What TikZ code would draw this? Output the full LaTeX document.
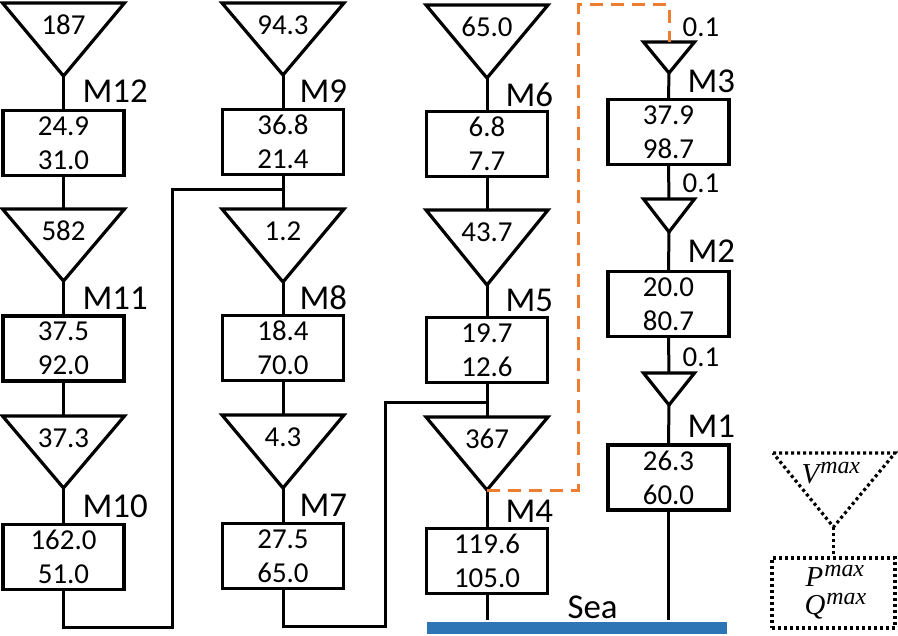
\documentclass[tikz,border=0pt]{standalone}
\usepackage{fontspec}
\setmainfont{Carlito}
\newfontfamily\legfont{Liberation Serif}
\definecolor{seablue}{HTML}{2E75B6}
\definecolor{tieorange}{HTML}{ED7D31}

% inverted triangle with a value inside: name, cx, top, tip, half width, value
\newcommand\gentri[6]{%
  \draw[tri] (#2-#5,#3) -- (#2+#5,#3) -- (#2,#4) -- cycle;
  \coordinate (#1top) at (#2,#3);
  \coordinate (#1tip) at (#2,#4);
  \node[num] (#1val) at (#2,#3+22) {#6};}
% small inverted triangle without value: name, cx, top, tip, half width
\newcommand\smalltri[5]{%
  \draw[tri] (#2-#5,#3) -- (#2+#5,#3) -- (#2,#4) -- cycle;
  \coordinate (#1top) at (#2,#3);
  \coordinate (#1tip) at (#2,#4);}
% italic symbol with raised "max"
\newcommand\maxsym[1]{{\itshape #1\kern1bp\raisebox{10bp}{\fontsize{24}{24}\selectfont max}}}

\begin{document}
\begin{tikzpicture}[x=1bp,y=-1bp,line width=3.2bp,line join=miter,
  tri/.style={line width=3.2bp},
  num/.style={font=\fontsize{29}{34}\selectfont,inner sep=0pt},
  valbox/.style={draw,line width=3.2bp,minimum width=121bp,minimum height=65bp,inner sep=0pt,
    align=center,font=\fontsize{29}{34}\selectfont},
  lbl/.style={font=\fontsize{35}{40}\selectfont,inner sep=0pt,anchor=base west},
  flow/.style={num,anchor=base west},
  link/.style={line width=3bp},
  tie/.style={draw=tieorange,line width=3bp,dash pattern=on 13bp off 8bp},
  dots/.style={line width=3.2bp,dash pattern=on 3bp off 3bp},
  legtext/.style={font=\legfont\fontsize{29}{29}\selectfont,inner sep=0pt,anchor=base west}]
\useasboundingbox (0,0) rectangle (898,636);

% ---- feeder M12 - M10
\gentri{t12}{63.5}{3}{76}{61}{187}
\node[valbox] (b12) at (63.5,143) {24.9\\31.0};
\node[lbl] (m12) at (81,103) {M12};
\gentri{t11}{63.5}{209}{281}{61}{582}
\node[valbox] (b11) at (63.5,348.5) {37.5\\92.0};
\node[lbl] (m11) at (81,309) {M11};
\gentri{t10}{63.5}{416}{488}{61}{37.3}
\node[valbox] (b10) at (63.5,557) {162.0\\51.0};
\node[lbl] (m10) at (81,517) {M10};

% ---- feeder M9 - M7
\gentri{t9}{283}{3}{75}{61}{94.3}
\node[valbox] (b9) at (283,142) {36.8\\21.4};
\node[lbl] (m9) at (298,103) {M9};
\gentri{t8}{283}{209}{282}{61}{1.2}
\node[valbox] (b8) at (283,348) {18.4\\70.0};
\node[lbl] (m8) at (298,309) {M8};
\gentri{t7}{283}{415}{488}{61}{4.3}
\node[valbox] (b7) at (283,556) {27.5\\65.0};
\node[lbl] (m7) at (298,516) {M7};

% ---- feeder M6 - M4
\gentri{t6}{487}{5}{78}{61}{65.0}
\node[valbox] (b6) at (487,144) {6.8\\7.7};
\node[lbl] (m6) at (504,107) {M6};
\gentri{t5}{487}{210}{285}{61}{43.7}
\node[valbox] (b5) at (487,350) {19.7\\12.6};
\node[lbl] (m5) at (504,311) {M5};
\gentri{t4}{487}{417}{490}{61}{367}
\node[valbox] (b4) at (487,561) {119.6\\105.0};
\node[lbl] (m4) at (504,522) {M4};

% ---- feeder M3 - M1
\smalltri{t3}{669}{42}{73}{25.5}
\node[valbox] (b3) at (668.5,132) {37.9\\98.7};
\node[lbl] (m3) at (686,93) {M3};
\smalltri{t2}{669}{199}{232}{25.5}
\node[valbox] (b2) at (668.5,304) {20.0\\80.7};
\node[lbl] (m2) at (686,263) {M2};
\smalltri{t1}{669}{373}{405}{25.5}
\node[valbox] (b1) at (668.5,477.5) {26.3\\60.0};
\node[lbl] (m1) at (686,437) {M1};
\node[flow] (f3) at (681,37) {0.1};
\node[flow] (f2) at (681,193) {0.1};
\node[flow] (f1) at (681,366) {0.1};

% ---- sea
\node[fill=seablue,minimum width=300bp,minimum height=12bp,inner sep=0pt] (sea) at (577,628) {};
\node[lbl] (seatxt) at (566,618) {Sea};

% ---- vertical links inside each feeder
\draw[link] (t12tip) -- (b12.north);
\draw[link] (b12.south) -- (t11top);
\draw[link] (t11tip) -- (b11.north);
\draw[link] (b11.south) -- (t10top);
\draw[link] (t10tip) -- (b10.north);
\draw[link] (t9tip) -- (b9.north);
\draw[link] (b9.south) -- (t8top);
\draw[link] (t8tip) -- (b8.north);
\draw[link] (b8.south) -- (t7top);
\draw[link] (t7tip) -- (b7.north);
\draw[link] (t6tip) -- (b6.north);
\draw[link] (b6.south) -- (t5top);
\draw[link] (t5tip) -- (b5.north);
\draw[link] (b5.south) -- (t4top);
\draw[link] (t4tip) -- (b4.north);
\draw[link] (t3tip) -- (b3.north);
\draw[link] (b3.south) -- (t2top);
\draw[link] (t2tip) -- (b2.north);
\draw[link] (b2.south) -- (t1top);
\draw[link] (t1tip) -- (b1.north);
\draw[link] (b4.south) -- (b4.south |- sea.north);
\draw[link] (b1.south) -- (b1.south |- sea.north);

% ---- cross links between feeders
\coordinate (j1) at (63.5,627);
\coordinate (j2) at (172,627);
\coordinate (j3) at (172,190);
\coordinate (j4) at (283,190);
\draw[link] (b10.south) -- (j1) -- (j2) -- (j3) -- (j4);
\coordinate (k1) at (283,626);
\coordinate (k2) at (385,626);
\coordinate (k3) at (385,402);
\coordinate (k4) at (487,402);
\draw[link] (b7.south) -- (k1) -- (k2) -- (k3) -- (k4);

% ---- tie line
\coordinate (o1) at (578,490);
\coordinate (o2) at (578,5);
\coordinate (o3) at (669,5);
\draw[tie] (t4tip) -- (o1) -- (o2) -- (o3) -- (t3top);

% ---- legend
\draw[dots] (773,453) -- (895,453) -- (833.5,527) -- cycle;
\coordinate (ltip) at (833.5,527);
\node[legtext] (lv) at (800,483) {\maxsym{V}};
\node[draw,dots,minimum width=123bp,minimum height=70bp,inner sep=0pt] (lbox) at (833.5,593) {};
\node[legtext] (lp) at (804,586) {\maxsym{P}};
\node[legtext] (lq) at (803,614) {\maxsym{Q}};
\draw[dots] (ltip) -- (lbox.north);
\end{tikzpicture}
\end{document}
